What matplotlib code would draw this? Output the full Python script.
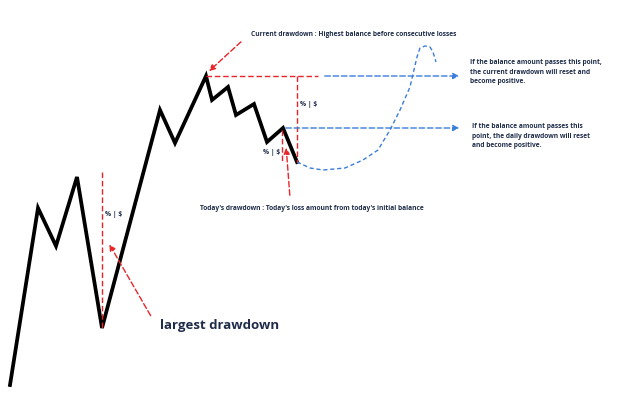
import matplotlib
matplotlib.use("Agg")
import matplotlib.pyplot as plt

W, H = 625, 401
line_x = [10, 38, 56, 77, 102, 160, 175, 206, 212, 228, 236, 254, 267, 283, 297]
line_y = [385, 208, 246, 177, 328, 110, 143, 76, 100, 87, 115, 104, 142, 128, 162]
curve_x = [297, 310, 323, 345, 363, 378, 390, 400, 410, 417, 420, 425, 430, 433, 436]
curve_y = [162, 168, 170, 168, 160, 150, 130, 110, 87, 57, 48, 46, 47, 52, 62]

fig = plt.figure(figsize=(W/100, H/100), dpi=100)
ax = fig.add_axes([0, 0, 1, 1])
ax.set_xlim(0, W); ax.set_ylim(H, 0); ax.axis('off')

ax.plot(line_x, line_y, color='black', lw=2.7, solid_joinstyle='miter')
ax.plot(curve_x, curve_y, color='#3b7ddd', lw=1, ls=(0, (3, 2)))

red = '#e8262a'; blue = '#3b7ddd'
ax.plot([206, 318], [76, 76], color=red, lw=1, ls=(0, (4, 2)))
ax.plot([297, 297], [76, 162], color=red, lw=1, ls=(0, (4, 2)))
ax.plot([282, 282], [130, 161], color=red, lw=1, ls=(0, (4, 2)))
ax.plot([102, 102], [172, 328], color=red, lw=1, ls=(0, (4, 2)))

def arrow(x0, y0, x1, y1, c):
    ax.annotate('', xy=(x1, y1), xytext=(x0, y0),
                arrowprops=dict(arrowstyle='-|>', color=c, lw=1, ls=(0, (4, 2)), mutation_scale=9))

arrow(322, 76, 462, 76, blue)
arrow(283, 128, 462, 128, blue)
arrow(243, 40, 207, 73, red)
arrow(290, 198, 286, 145, red)
arrow(152, 318, 108, 242, red)

fs = 4.8
tc = '#1f2d4a'
kw = dict(fontsize=fs, fontweight='bold', color=tc, family='Open Sans')
ax.text(251, 35, "Current drawdown : Highest balance before consecutive losses", va='center', **kw)
ax.text(300, 104, "% | $", va='center', **kw)
ax.text(263, 152, "% | $", va='center', **kw)
ax.text(105, 215, "% | $", va='center', **kw)
ax.text(200, 208, "Today's drawdown : Today's loss amount from today's initial balance", va='center', **kw)
ax.text(470, 72, "If the balance amount passes this point,\nthe current drawdown will reset and\nbecome positive.", va='center', linespacing=1.5, **kw)
ax.text(472, 136, "If the balance amount passes this\npoint, the daily drawdown will reset\nand become positive.", va='center', linespacing=1.5, **kw)
ax.text(160, 325, "largest drawdown", va='center', fontsize=9.5, fontweight='bold', color=tc, family='Open Sans')

fig.savefig("out.png", dpi=100)
